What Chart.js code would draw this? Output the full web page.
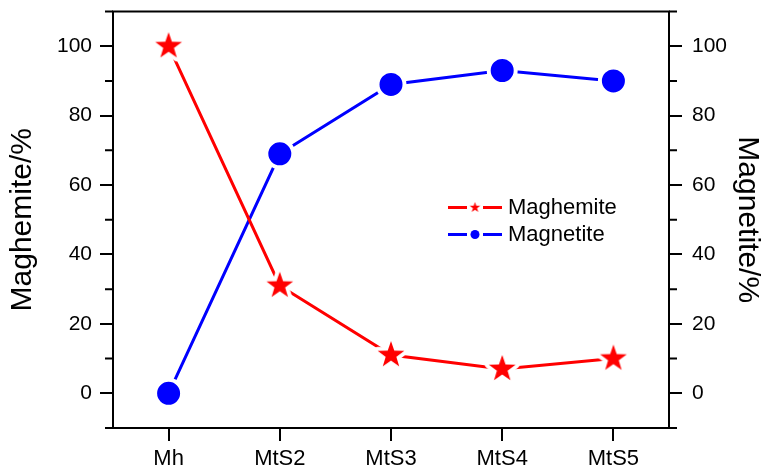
<!DOCTYPE html>
<html>
<head>
<meta charset="utf-8">
<script src="https://cdn.jsdelivr.net/npm/chart.js@4.4.1/dist/chart.umd.min.js"></script>
<style>
  body { margin: 0; background: #fff; overflow: hidden; }
  #wrap { width: 768px; height: 478px; margin-top: -6px; }
</style>
</head>
<body>
<div id="wrap"><canvas id="chart"></canvas></div>
<script>
let samples = ["Mh", "MtS2", "MtS3", "MtS4", "MtS5"];
let maghemite = [100, 31, 11, 7, 10];
let magnetite = [0, 69, 89, 93, 90];
let yTicks = [0, 20, 40, 60, 80, 100];
let yMinorTicks = [-10, 10, 30, 50, 70, 90, 110];

let font = "'Liberation Sans', Arial, sans-serif";

// filled star with a white halo, so the line stops short of it
function makeStar(outer, color, halo) {
    let size = Math.ceil(2 * (outer + halo) + 2);
    let c = document.createElement("canvas");
    c.width = size;
    c.height = size;
    let ctx = c.getContext("2d");
    ctx.translate(size / 2, size / 2);
    ctx.beginPath();
    for (let i = 0; i < 10; i++) {
        let r = i % 2 === 0 ? outer : outer * 0.4;
        let a = -Math.PI / 2 + i * Math.PI / 5;
        ctx.lineTo(r * Math.cos(a), r * Math.sin(a));
    }
    ctx.closePath();
    if (halo > 0) {
        ctx.lineJoin = "round";
        ctx.strokeStyle = "#fff";
        ctx.lineWidth = halo * 2;
        ctx.stroke();
    }
    ctx.fillStyle = color;
    ctx.fill();
    return c;
}

let bigStar = makeStar(14, "#ff0000", 4);
let smallStar = makeStar(5.5, "#ff0000", 0);

let framePlugin = {
    id: "frame",
    afterDraw(chart) {
        let ctx = chart.ctx;
        let area = chart.chartArea;
        ctx.save();
        ctx.strokeStyle = "#000";
        ctx.lineWidth = 2;
        ctx.strokeRect(area.left, area.top, area.right - area.left, area.bottom - area.top);

        // minor ticks
        let y = chart.scales.y;
        yMinorTicks.forEach(v => {
            let py = y.getPixelForValue(v);
            ctx.beginPath();
            ctx.moveTo(area.left - 8, py);
            ctx.lineTo(area.left, py);
            ctx.moveTo(area.right, py);
            ctx.lineTo(area.right + 8, py);
            ctx.stroke();
        });
        ctx.restore();
    }
};

let legendPlugin = {
    id: "innerLegend",
    afterDatasetsDraw(chart) {
        let ctx = chart.ctx;
        let area = chart.chartArea;
        let x0 = area.left + 335;
        let rows = [area.top + 196, area.top + 223];
        ctx.save();
        chart.data.datasets.forEach((ds, i) => {
            let y = rows[i];
            ctx.strokeStyle = ds.borderColor;
            ctx.lineWidth = 3;
            ctx.beginPath();
            ctx.moveTo(x0, y);
            ctx.lineTo(x0 + 19, y);
            ctx.moveTo(x0 + 35, y);
            ctx.lineTo(x0 + 54, y);
            ctx.stroke();
            if (i === 0) {
                ctx.drawImage(smallStar, x0 + 27 - smallStar.width / 2, y - smallStar.height / 2);
            } else {
                ctx.fillStyle = ds.borderColor;
                ctx.beginPath();
                ctx.arc(x0 + 27, y, 4.5, 0, Math.PI * 2);
                ctx.fill();
            }
            ctx.fillStyle = "#000";
            ctx.font = "22px " + font;
            ctx.textBaseline = "middle";
            ctx.fillText(ds.label, x0 + 60, y);
        });
        ctx.restore();
    }
};

function axisTicks(scale) {
    scale.ticks = yTicks.map(v => ({ value: v }));
}

function fitY(width) {
    return s => {
        s.width = width;
        s.paddingTop = 0;
        s.paddingBottom = 0;
    };
}

new Chart(document.getElementById("chart"), {
    type: "line",
    data: {
        labels: samples,
        datasets: [{
            label: "Maghemite",
            data: maghemite,
            yAxisID: "y",
            borderColor: "#ff0000",
            backgroundColor: "#ff0000",
            borderWidth: 3,
            pointStyle: bigStar,
            pointRadius: 14
        }, {
            label: "Magnetite",
            data: magnetite,
            yAxisID: "y1",
            borderColor: "#0000ff",
            backgroundColor: "#0000ff",
            borderWidth: 3,
            pointStyle: "circle",
            pointRadius: 13.5,
            pointBorderColor: "#fff",
            pointBorderWidth: 4
        }]
    },
    options: {
        responsive: true,
        maintainAspectRatio: false,
        animation: false,
        events: [],
        layout: { padding: 0 },
        plugins: {
            legend: { display: false },
            tooltip: { enabled: false }
        },
        scales: {
            x: {
                offset: true,
                grid: { drawOnChartArea: false, tickLength: 13, lineWidth: 2, color: "#000" },
                border: { color: "#000", width: 2 },
                ticks: { color: "#000", padding: 5, font: { family: font, size: 22 } },
                afterFit(s) { s.height = 44; }
            },
            y: {
                position: "left",
                min: -10,
                max: 110,
                afterBuildTicks: axisTicks,
                grid: { drawOnChartArea: false, tickLength: 13, lineWidth: 2, color: "#000" },
                border: { color: "#000", width: 2 },
                ticks: { color: "#000", padding: 8, font: { family: font, size: 21, lineHeight: 1 } },
                title: {
                    display: true,
                    text: "Maghemite/%",
                    color: "#000",
                    padding: { top: 5, bottom: 0 },
                    font: { family: font, size: 30 }
                },
                afterFit: fitY(113)
            },
            y1: {
                position: "right",
                min: -10,
                max: 110,
                afterBuildTicks: axisTicks,
                grid: { drawOnChartArea: false, tickLength: 13, lineWidth: 2, color: "#000" },
                border: { color: "#000", width: 2 },
                ticks: { color: "#000", padding: 10, font: { family: font, size: 21, lineHeight: 1 } },
                title: {
                    display: true,
                    text: "Magnetite/%",
                    color: "#000",
                    padding: { top: 3, bottom: 0 },
                    font: { family: font, size: 30 }
                },
                afterFit: fitY(99)
            }
        }
    },
    plugins: [framePlugin, legendPlugin]
});
</script>
</body>
</html>
